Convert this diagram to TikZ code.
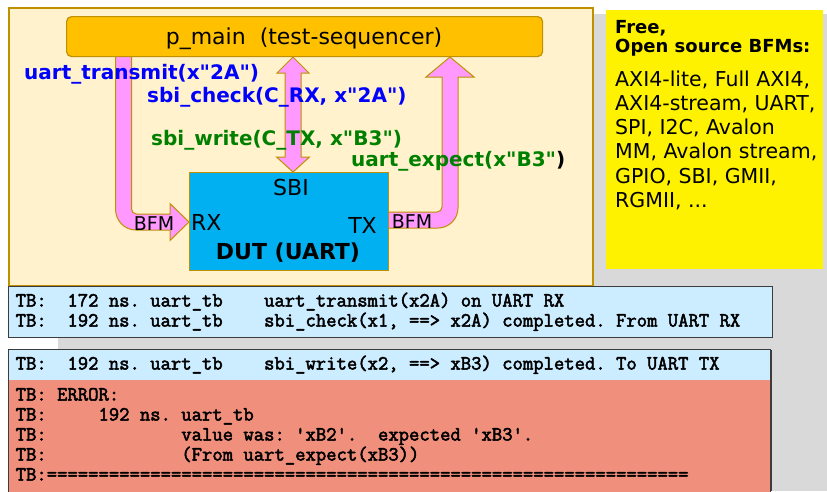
\documentclass[tikz,border=0pt]{standalone}
\usepackage{fontspec}
\newfontfamily\dv{DejaVu Sans}
\newfontfamily\logf{Latin Modern Mono}[FakeBold=2.5]
\definecolor{gold}{RGB}{191,144,0}
\definecolor{beige}{RGB}{255,242,204}
\definecolor{porange}{RGB}{255,192,0}
\definecolor{dutblue}{RGB}{0,176,240}
\definecolor{pinkfill}{RGB}{255,153,255}
\definecolor{bggray}{RGB}{217,217,217}
\definecolor{logblue}{RGB}{204,236,255}
\definecolor{salmon}{RGB}{240,144,124}
\definecolor{lblue}{RGB}{0,0,255}
\definecolor{lgreen}{RGB}{0,128,0}
\definecolor{logborder}{RGB}{60,60,60}
\begin{document}
\begin{tikzpicture}[x=1pt,y=-1pt,
  panel/.style={draw=gold, line width=1.5pt, fill=beige, anchor=north west, inner sep=0pt},
  pbox/.style={draw=gold, line width=1.2pt, fill=porange, rounded corners=5pt, anchor=north west, inner sep=0pt},
  dutbox/.style={draw=gold, line width=1.2pt, fill=dutblue, anchor=north west, inner sep=0pt},
  barrow/.style={draw=gold, line width=1pt, fill=pinkfill, line join=miter},
  lbl/.style={font=\dv\bfseries\fontsize{20}{24}\selectfont, anchor=base west, inner sep=0pt},
  dtext/.style={font=\dv\fontsize{22}{26}\selectfont, anchor=base, inner sep=0pt},
  bfm/.style={font=\dv\fontsize{19}{22}\selectfont, anchor=base, inner sep=0pt},
  ytext/.style={font=\dv\fontsize{20.5}{24}\selectfont, anchor=base west, inner sep=0pt},
  yhead/.style={font=\dv\bfseries\fontsize{18}{21}\selectfont, anchor=base west, inner sep=0pt},
  logt/.style={font=\logf\fontsize{20.1}{22}\selectfont, anchor=base west, inner sep=0pt},
  logbox/.style={draw=logborder, line width=1pt, anchor=north west, inner sep=0pt},
]
\useasboundingbox (0,0) rectangle (827,491);
% gray backdrop
\fill[bggray] (58,14) rectangle (827,491);
% main panel
\node[panel, minimum width=584pt, minimum height=278pt] (panel) at (8,7) {};
% yellow info box
\node[fill=yellow, anchor=north west, inner sep=0pt, minimum width=217pt, minimum height=259pt] (ybox) at (606,10) {};
% block arrows
\draw[barrow] (115.5,50) -- (115.5,209) .. controls (115.5,220.6) and (124.4,230) .. (136,230)
  -- (170,230) -- (170,240.5) -- (189,222) -- (170,203.5) -- (170,214) -- (136.5,214)
  .. controls (133.7,214) and (131.5,211.8) .. (131.5,209) -- (131.5,50) -- cycle;
\draw[barrow] (293,57) -- (309,73) -- (301,73) -- (301,157) -- (309.5,157) -- (293,172)
  -- (276.5,157) -- (285,157) -- (285,73) -- (277,73) -- cycle;
\draw[barrow] (388,212) -- (437,212) .. controls (439.8,212) and (442,209.8) .. (442,207)
  -- (442,77) -- (426,77) -- (450,57) -- (474,77) -- (458,77) -- (458,208)
  .. controls (458,219) and (449,228) .. (438,228) -- (388,228) -- cycle;
% p_main box
\node[pbox, minimum width=476pt, minimum height=40pt] (pmain) at (66,16) {};
\node[dtext] (pmaintxt) at (304,44) {p\_main~~(test-sequencer)};
% DUT
\node[dutbox, minimum width=199pt, minimum height=98pt] (dut) at (189,172) {};
\node[dtext] (sbi) at (291,195) {SBI};
\node[dtext, anchor=base west] (rx) at (191,230) {RX};
\node[dtext, anchor=base east] (tx) at (377,233) {TX};
\node[dtext, font=\dv\bfseries\fontsize{22}{26}\selectfont] (dutname) at (288,259) {DUT (UART)};
\node[bfm] (bfml) at (154,230) {BFM};
\node[bfm] (bfmr) at (412,228) {BFM};
% labels
\node[lbl, text=lblue] (l1) at (24,79) {uart\_transmit(x"2A")};
\node[lbl, text=lblue] (l2) at (147,102) {sbi\_check(C\_RX, x"2A")};
\node[lbl, text=lgreen] (l3) at (151,145) {sbi\_write(C\_TX, x"B3")};
\node[lbl, text=lgreen] (l4) at (351,166) {uart\_expect(x"B3"\textcolor{black}{)}};
% yellow text
\node[yhead] (y1) at (615,33) {Free,};
\node[yhead] (y2) at (615,52) {Open source BFMs:};
\node[ytext] (y3) at (615,86) {AXI4-lite, Full AXI4,};
\node[ytext] (y4) at (615,110) {AXI4-stream, UART,};
\node[ytext] (y5) at (615,134) {SPI, I2C, Avalon};
\node[ytext] (y6) at (615,158) {MM, Avalon stream,};
\node[ytext] (y7) at (615,183) {GPIO, SBI, GMII,};
\node[ytext] (y8) at (615,207) {RGMII, ...};
% log box 1
\node[logbox, fill=logblue, minimum width=764.5pt, minimum height=51pt] (log1) at (7.5,286) {};
\node[logt] (t1) at (15.5,306.5) {TB:~~172~ns.~uart\_tb~~~~uart\_transmit(x2A)~on~UART~RX};
\node[logt] (t2) at (15.5,326.5) {TB:~~192~ns.~uart\_tb~~~~sbi\_check(x1,~==>~x2A)~completed.~From~UART~RX};
% log box 2
\fill[salmon] (7.5,349) rectangle (770,495);
\fill[logblue] (7.5,349) rectangle (770,380);
\node[logbox, minimum width=762.5pt, minimum height=146pt] (log2) at (7.5,349) {};
\draw[logborder, line width=1.5pt] (771.5,350) -- (771.5,491);
\node[logt] (t3) at (15.5,369.5) {TB:~~192~ns.~uart\_tb~~~~sbi\_write(x2,~==>~xB3)~completed.~To~UART~TX};
\node[logt] (t4) at (15.5,400.5) {TB:~ERROR:};
\node[logt] (t5) at (15.5,420.5) {TB:~~~~~192~ns.~uart\_tb};
\node[logt] (t6) at (15.5,440.5) {TB:~~~~~~~~~~~~~value~was:~'xB2'.~~expected~'xB3'.};
\node[logt] (t7) at (15.5,460.5) {TB:~~~~~~~~~~~~~(From~uart\_expect(xB3))};
\node[logt] (t8) at (15.5,480.5) {TB:==============================================================};
\end{tikzpicture}
\end{document}
